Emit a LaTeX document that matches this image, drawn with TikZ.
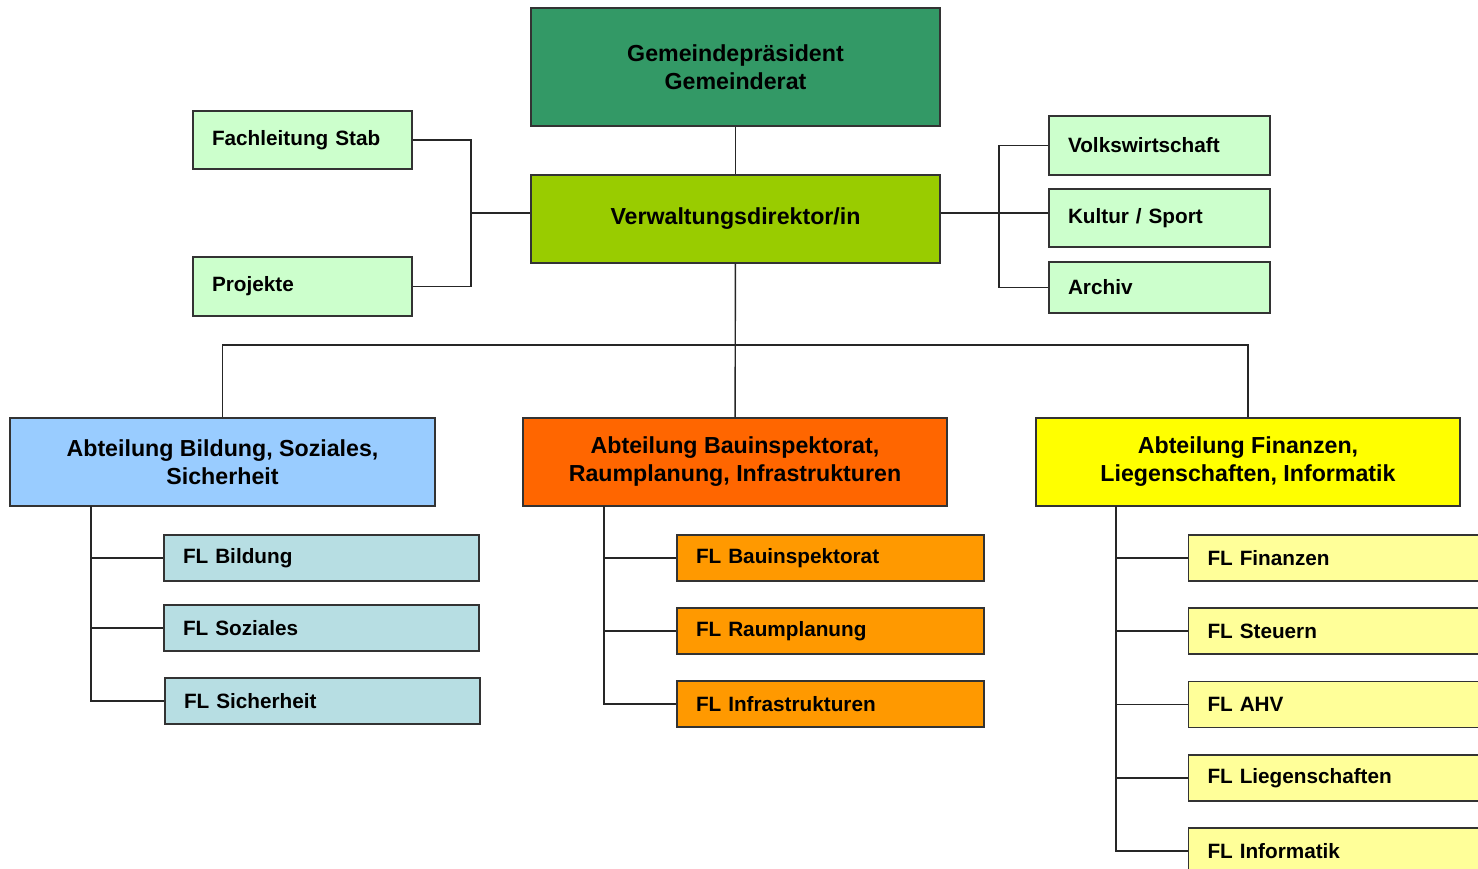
\documentclass[tikz,border=0pt]{standalone}
\usepackage{fontspec}
\setmainfont{Liberation Sans}
\usepackage{tikz}
\usetikzlibrary{positioning}
\definecolor{gpgruen}{HTML}{339966}
\definecolor{vdgruen}{HTML}{99CC00}
\definecolor{hellgruen}{HTML}{CCFFCC}
\definecolor{blau}{HTML}{99CCFF}
\definecolor{hellblau}{HTML}{B7DEE3}
\definecolor{rotorange}{HTML}{FF6600}
\definecolor{orange}{HTML}{FF9900}
\definecolor{gelb}{HTML}{FFFF00}
\definecolor{hellgelb}{HTML}{FFFF99}
\tikzstyle{every node}=[font=\bfseries]
\tikzstyle{gross}=[draw=black!80, line width=0.8pt, inner sep=0pt, align=center, font=\bfseries\fontsize{13.2}{15.9}\selectfont]
\tikzstyle{klein}=[draw=black!80, line width=0.8pt, inner ysep=0pt, inner xsep=0.38cm, align=left, font=\bfseries\fontsize{11.8}{14}\selectfont]
\tikzstyle{linie}=[black!85, line width=0.8pt]

\begin{document}
\begin{tikzpicture}[x=0.02cm, y=-0.02cm]
	\useasboundingbox (0,0) rectangle (1478,869);
	
	% spitze
	\node[gross, fill=gpgruen, minimum width=8.18cm, minimum height=2.36cm] (gp) at (735.5,67) {Gemeindepräsident\\Gemeinderat};
	\node[gross, fill=vdgruen, minimum width=8.18cm, minimum height=1.76cm] (vd) at (735.5,219) {Verwaltungsdirektor/in};
	
	% stab links
	\node[klein, fill=hellgruen, text width=3.62cm, minimum height=1.16cm] (stab) at (302.5,140) {Fachleitung Stab};
	\node[klein, fill=hellgruen, text width=3.62cm, minimum height=1.18cm] (proj) at (302.5,286.5) {Projekte};
	
	% stab rechts
	\node[klein, fill=hellgruen, text width=3.66cm, minimum height=1.18cm] (volk) at (1159.5,145.5) {Volkswirtschaft};
	\node[klein, fill=hellgruen, text width=3.66cm, minimum height=1.16cm] (kult) at (1159.5,218) {Kultur / Sport};
	\node[klein, fill=hellgruen, text width=3.66cm, minimum height=1.02cm] (arch) at (1159.5,287.5) {Archiv};
	
	% abteilungen
	\node[gross, fill=blau, minimum width=8.5cm, minimum height=1.76cm] (bild) at (222.5,462) {Abteilung Bildung, Soziales,\\Sicherheit};
	\node[gross, fill=rotorange, minimum width=8.48cm, minimum height=1.76cm] (bau) at (735,462) {Abteilung Bauinspektorat,\\Raumplanung, Infrastrukturen};
	\node[gross, fill=gelb, minimum width=8.48cm, minimum height=1.76cm] (fin) at (1248,462) {Abteilung Finanzen,\\Liegenschaften, Informatik};
	
	% fachleitungen bildung
	\node[klein, fill=hellblau, text width=5.54cm, minimum height=0.92cm] (flbil) at (321.5,558) {FL Bildung};
	\node[klein, fill=hellblau, text width=5.54cm, minimum height=0.92cm] (flsoz) at (321.5,628) {FL Soziales};
	\node[klein, fill=hellblau, text width=5.54cm, minimum height=0.92cm] (flsic) at (322.5,701) {FL Sicherheit};
	
	% fachleitungen bau
	\node[klein, fill=orange, text width=5.38cm, minimum height=0.92cm] (flbau) at (830.5,558) {FL Bauinspektorat};
	\node[klein, fill=orange, text width=5.38cm, minimum height=0.92cm] (flraum) at (830.5,631) {FL Raumplanung};
	\node[klein, fill=orange, text width=5.38cm, minimum height=0.92cm] (flinfra) at (830.5,704) {FL Infrastrukturen};
	
	% fachleitungen finanzen
	\node[klein, fill=hellgelb, text width=5.3cm, minimum height=0.92cm] (flfin) at (1340,558) {FL Finanzen};
	\node[klein, fill=hellgelb, text width=5.3cm, minimum height=0.92cm] (flst) at (1340,631) {FL Steuern};
	\node[klein, fill=hellgelb, text width=5.3cm, minimum height=0.92cm] (flahv) at (1340,704.5) {FL AHV};
	\node[klein, fill=hellgelb, text width=5.3cm, minimum height=0.92cm] (flleg) at (1340,778) {FL Liegenschaften};
	\node[klein, fill=hellgelb, text width=5.3cm, minimum height=0.92cm] (flinf) at (1340,851) {FL Informatik};
	
	\coordinate (ls) at (471,213);
	\coordinate (rs) at (999,213);
	\coordinate (bus) at (735.5,345);
	\coordinate (sbil) at (91,506);
	\coordinate (sbau) at (604,506);
	\coordinate (sfin) at (1116,506);
	
	% linien
	\draw[linie] (gp) -- (vd);
	\draw[linie] (stab.east) -| (ls) |- (proj.east);
	\draw[linie] (ls) -- (ls -| vd.west);
	\draw[linie] (volk.west) -| (rs) |- (arch.west);
	\draw[linie] (rs -| vd.east) -- (rs -| kult.west);
	\draw[linie] (vd) -- (bau);
	\draw[linie] (bild.north) |- (bus) -| (fin.north);
	
	\foreach \n in {flbil, flsoz, flsic}
		\draw[linie] (sbil) |- (\n.west);
	\foreach \n in {flbau, flraum, flinfra}
		\draw[linie] (sbau) |- (\n.west);
	\foreach \n in {flfin, flst, flahv, flleg, flinf}
		\draw[linie] (sfin) |- (\n.west);
\end{tikzpicture}
\end{document}
